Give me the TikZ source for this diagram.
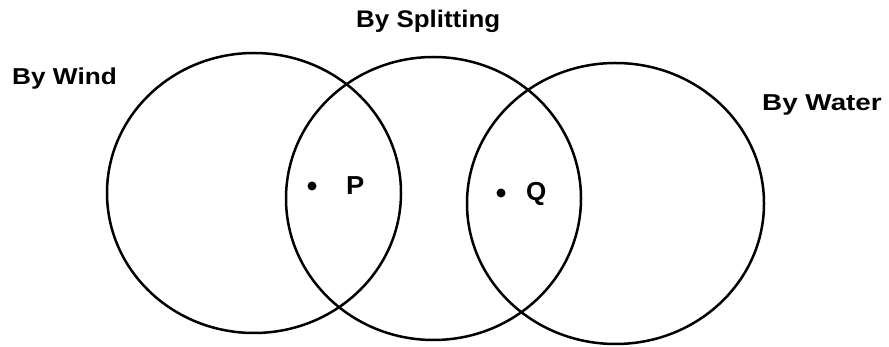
\documentclass[tikz,border=0pt]{standalone}
\usepackage{fontspec}
\setmainfont{Liberation Sans}
\usetikzlibrary{shapes.geometric}
\tikzset{
  setring/.style={draw, ellipse, line width=2.5pt, inner sep=0pt},
  lbl/.style={inner sep=0pt, font=\bfseries\fontsize{23}{27}\selectfont},
  ptlbl/.style={inner sep=0pt, font=\bfseries\fontsize{26}{30}\selectfont},
  pdot/.style={circle, fill, inner sep=0pt, minimum size=9pt}
}
\begin{document}
\begin{tikzpicture}[x=1pt,y=-1pt]
\useasboundingbox (0,0) rectangle (889,347);
\node[setring, minimum width=294pt, minimum height=280pt] (wind) at (254,193) {};
\node[setring, minimum width=295pt, minimum height=283pt] (split) at (433.5,198.5) {};
\node[setring, minimum width=297pt, minimum height=281pt] (water) at (615.5,203.5) {};
\node[lbl, anchor=base west] (lwind) at (12,85) {\scalebox{1.14}[1]{By Wind}};
\node[lbl, anchor=base west, font=\bfseries\fontsize{24}{28}\selectfont] (lsplit) at (356,28) {\scalebox{1.08}[1]{By Splitting}};
\node[lbl, anchor=base west] (lwater) at (762,111) {\scalebox{1.21}[1]{By Water}};
\node[pdot] (p) at (312,186) {};
\node[pdot] (q) at (501,193) {};
\node[ptlbl, anchor=base west] (lp) at (346,195) {\scalebox{1.05}[1]{P}};
\node[ptlbl, anchor=base west] (lq) at (526,201) {Q};
\end{tikzpicture}
\end{document}
